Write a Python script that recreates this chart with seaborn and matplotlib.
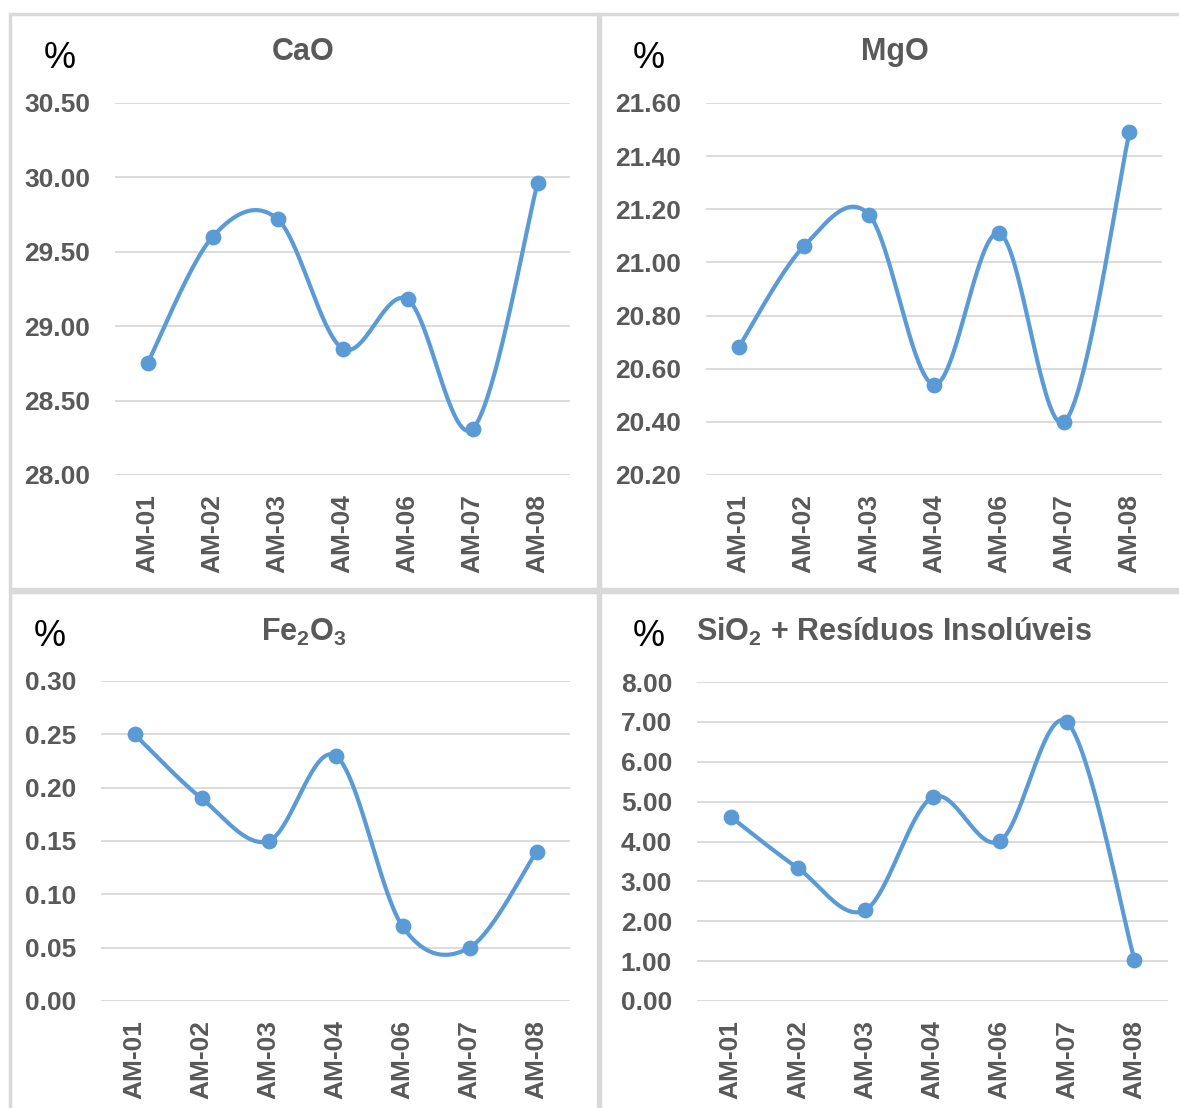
import numpy as np
import matplotlib
matplotlib.use("Agg")
import matplotlib.pyplot as plt
import seaborn as sns
import pandas as pd
from matplotlib.patches import Rectangle

# ---- data -------------------------------------------------------------
samples = ["AM-01", "AM-02", "AM-03", "AM-04", "AM-06", "AM-07", "AM-08"]
cao = [28.75, 29.60, 29.72, 28.85, 29.18, 28.31, 29.96]
mgo = [20.68, 21.06, 21.18, 20.54, 21.11, 20.40, 21.49]
fe2o3 = [0.25, 0.19, 0.15, 0.23, 0.07, 0.05, 0.14]
sio2_ri = [4.62, 3.33, 2.28, 5.11, 4.01, 6.99, 1.04]

cao_ticks = [28.00, 28.50, 29.00, 29.50, 30.00, 30.50]
mgo_ticks = [20.20, 20.40, 20.60, 20.80, 21.00, 21.20, 21.40, 21.60]
fe2o3_ticks = [0.00, 0.05, 0.10, 0.15, 0.20, 0.25, 0.30]
sio2_ticks = [0.00, 1.00, 2.00, 3.00, 4.00, 5.00, 6.00, 7.00, 8.00]

titles = ["CaO", "MgO", r"Fe$_\mathbf{2}$O$_\mathbf{3}$",
          r"SiO$_\mathbf{2}$ + Resíduos Insolúveis"]

# ---- style ------------------------------------------------------------
sns.set_theme(style="white")
plt.rcParams["font.family"] = ["Liberation Sans", "DejaVu Sans"]
plt.rcParams["mathtext.fontset"] = "custom"
plt.rcParams["mathtext.rm"] = "Liberation Sans:bold"
plt.rcParams["mathtext.bf"] = "Liberation Sans:bold"
plt.rcParams["mathtext.default"] = "bf"

LINE = "#5B9BD5"
TEXT = "#595959"
GRID = "#D9D9D9"
W, H = 1179, 1108


def smooth_curve(y, n=40):
    """Bezier smoothing through the points (control handles at 1/6 of neighbours)."""
    x = np.arange(len(y), dtype=float)
    P = np.column_stack([x, np.asarray(y, dtype=float)])
    segs = []
    for i in range(len(P) - 1):
        p0 = P[i - 1] if i > 0 else P[i]
        p1, p2 = P[i], P[i + 1]
        p3 = P[i + 2] if i + 2 < len(P) else P[i + 1]
        c1 = p1 + (p2 - p0) / 6.0
        c2 = p2 - (p3 - p1) / 6.0
        t = np.linspace(0, 1, n)[:, None]
        seg = ((1 - t) ** 3) * p1 + 3 * ((1 - t) ** 2) * t * c1 \
            + 3 * (1 - t) * (t ** 2) * c2 + (t ** 3) * p2
        segs.append(seg if i == 0 else seg[1:])
    return np.vstack(segs)


def px_box(l, t, r, b):
    return [l / W, 1 - b / H, (r - l) / W, (b - t) / H]


fig = plt.figure(figsize=(W / 100, H / 100), dpi=100)

# panel frames
for (l, t, r, b) in [(10, 14, 598, 589), (600, 14, 1182, 589),
                     (10, 592, 598, 1112), (600, 592, 1182, 1112)]:
    fig.add_artist(Rectangle((l / W, 1 - b / H), (r - l) / W, (b - t) / H,
                             transform=fig.transFigure, fill=False,
                             edgecolor=GRID, linewidth=2.5))

panels = [
    dict(vals=cao, ticks=cao_ticks, box=(115, 103, 570, 475),
         pct=(60, 58), title=(303, 52)),
    dict(vals=mgo, ticks=mgo_ticks, box=(706, 103, 1162, 475),
         pct=(649, 58), title=(895, 52)),
    dict(vals=fe2o3, ticks=fe2o3_ticks, box=(101, 681, 570, 1001),
         pct=(50, 636), title=(304, 632)),
    dict(vals=sio2_ri, ticks=sio2_ticks, box=(697, 682, 1168, 1001),
         pct=(649, 636), title=(894, 632)),
]

for p, title in zip(panels, titles):
    ax = fig.add_axes(px_box(*p["box"]))
    df = pd.DataFrame({"x": np.arange(len(samples)), "sample": samples,
                       "value": p["vals"]})
    curve = smooth_curve(p["vals"])
    cdf = pd.DataFrame({"x": curve[:, 0], "y": curve[:, 1]})
    sns.lineplot(data=cdf, x="x", y="y", sort=False, estimator=None,
                 color=LINE, linewidth=3.0, ax=ax, zorder=3)
    sns.scatterplot(data=df, x="x", y="value", color=LINE, s=130,
                    edgecolor=LINE, linewidth=0, ax=ax, zorder=4)

    ax.set_xlim(-0.5, len(samples) - 0.5)
    ax.set_ylim(p["ticks"][0], p["ticks"][-1])
    ax.set_yticks(p["ticks"])
    ax.set_yticklabels([f"{v:.2f}" for v in p["ticks"]])
    ax.set_xticks(df["x"])
    ax.set_xticklabels(samples, rotation=90)
    ax.set_xlabel("")
    ax.set_ylabel("")
    ax.grid(axis="y", color=GRID, linewidth=1.3)
    ax.grid(axis="x", visible=False)
    ax.set_axisbelow(True)
    for s in ax.spines.values():
        s.set_visible(False)
    ax.tick_params(axis="both", length=0, labelcolor=TEXT, labelsize=19)
    ax.tick_params(axis="y", pad=18)
    ax.tick_params(axis="x", pad=14)
    for lab in ax.get_xticklabels() + ax.get_yticklabels():
        lab.set_fontweight("bold")

    fig.text(p["pct"][0] / W, 1 - p["pct"][1] / H, "%", fontsize=26,
             color="black", ha="center", va="center")
    fig.text(p["title"][0] / W, 1 - p["title"][1] / H, title, fontsize=22,
             fontweight="bold", color=TEXT, ha="center", va="center")

fig.savefig("out.png", dpi=100, facecolor="white")
